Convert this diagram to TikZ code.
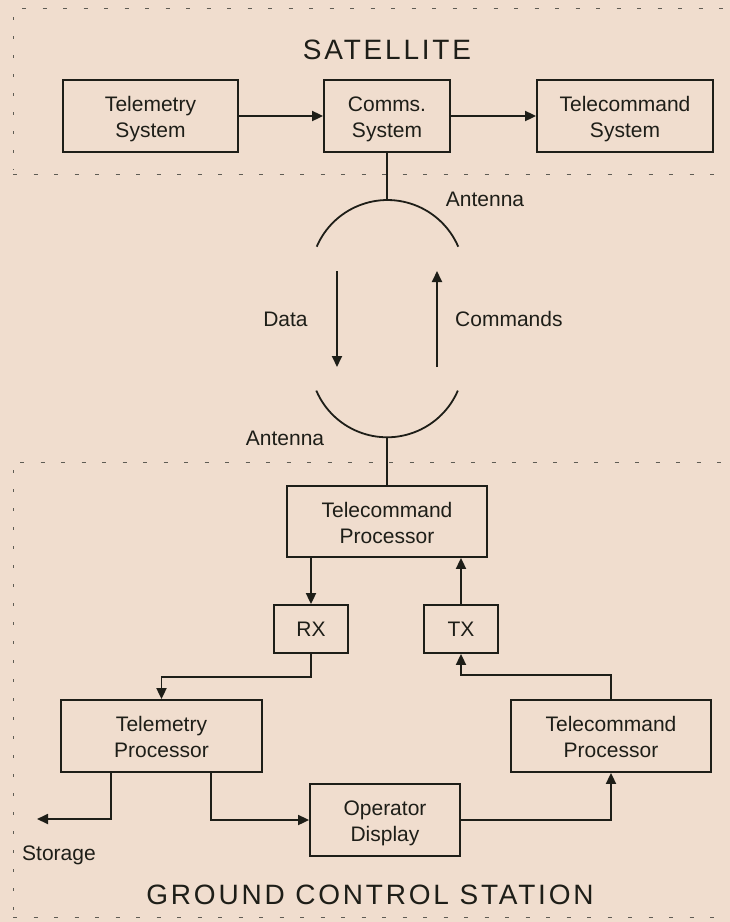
\documentclass[tikz,border=0pt]{standalone}
\usepackage{fontspec}
\setmainfont{Liberation Sans}
\newfontfamily\titlefont[LetterSpace=10]{Liberation Sans}
\usetikzlibrary{arrows.meta}
\definecolor{paper}{RGB}{240,221,206}
\definecolor{ink}{RGB}{30,30,24}
\definecolor{dashgrey}{RGB}{95,92,84}
\begin{document}
\begin{tikzpicture}[x=1pt,y=-1pt,
  box/.style={draw=ink,line width=1.8pt,inner sep=0pt,align=center,text=ink,
    font=\fontsize{21}{26}\selectfont,text height=43pt,text depth=0pt},
  smallbox/.style={box,text height=15pt},
  flow/.style={draw=ink,line width=1.8pt,-{Triangle[length=11pt,width=10pt]}},
  wire/.style={draw=ink,line width=1.8pt},
  lbl/.style={text=ink,font=\fontsize{21}{26}\selectfont,inner sep=0pt},
  title/.style={text=ink,font=\titlefont\fontsize{28}{34}\selectfont,inner sep=0pt},
  zone/.style={draw=dashgrey,line width=1pt,dash pattern=on 4pt off 16.5pt},
  zoneside/.style={draw=dashgrey,line width=1pt,dash pattern=on 3pt off 16pt}]

% page
\fill[paper] (0,0) rectangle (730,922);
\useasboundingbox (0,0) rectangle (730,922);

% zone borders
\draw[zone] (22,8) -- (730,8);
\draw[zoneside] (13,17) -- (13,170);
\draw[zone] (13,174) -- (730,174);
\draw[zone] (20,462) -- (730,462);
\draw[zoneside] (13,470) -- (13,922);
\draw[zone] (13,917) -- (730,917);

% titles
\node[title,anchor=base] (sat) at (387,59.3) {SATELLITE};
\node[title,anchor=base] (gcs) at (370,904) {GROUND CONTROL STATION};

% satellite blocks
\node[box,minimum width=175pt,minimum height=72pt] (tms) at (150.5,116) {Telemetry\\System};
\node[box,minimum width=126pt,minimum height=72pt] (comms) at (387,116) {Comms.\\System};
\node[box,minimum width=176pt,minimum height=72pt] (tcs) at (625,116) {Telecommand\\System};

% ground blocks
\node[box,minimum width=200pt,minimum height=71pt] (tcp) at (387,521.5) {Telecommand\\Processor};
\node[smallbox,minimum width=74pt,minimum height=48pt] (rx) at (311,629) {RX};
\node[smallbox,minimum width=74pt,minimum height=48pt] (tx) at (461,629) {TX};
\node[box,minimum width=201pt,minimum height=72pt] (tmp) at (161.5,736) {Telemetry\\Processor};
\node[box,minimum width=200pt,minimum height=72pt] (tcr) at (611,736) {Telecommand\\Processor};
\node[box,minimum width=150pt,minimum height=72pt] (od) at (385,820) {Operator\\Display};

% antennas
\coordinate (antup) at (387,200);
\coordinate (antdn) at (387,437.3);
\draw[wire] (316.7,246.7) arc[start angle=203.2,end angle=336.8,radius=77];
\draw[wire] (316.3,390.6) arc[start angle=156.8,end angle=23.2,radius=77];
\node[lbl,anchor=base] (antlblup) at (485,206) {Antenna};
\node[lbl,anchor=base] (antlbldn) at (285,445) {Antenna};

% space link
\coordinate (dataA) at (337,271);
\coordinate (dataB) at (337,367);
\coordinate (cmdA) at (437,367);
\coordinate (cmdB) at (437,271);
\draw[flow] (dataA) -- (dataB);
\draw[flow] (cmdA) -- (cmdB);
\node[lbl,anchor=base] (datalbl) at (285.5,326) {Data};
\node[lbl,anchor=base west] (cmdlbl) at (455,326) {Commands};

% satellite connections
\draw[flow] (tms.east) -- (comms.west);
\draw[flow] (comms.east) -- (tcs.west);
\draw[wire] (comms.south) -- (antup);
\draw[wire] (antdn) -- (tcp.north);

% ground connections
\draw[flow] (tcp.south -| rx.north) -- (rx.north);
\draw[flow] (tx.north) -- (tx.north |- tcp.south);
\draw[flow] (rx.south) -- ++(0,23) -| (tmp.north);
\draw[flow] (tcr.north) -- ++(0,-24) -| (tx.south);
\coordinate (store) at (37,819);
\draw[flow] ([xshift=-50.5pt]tmp.south) |- (store);
\draw[flow] ([xshift=49.5pt]tmp.south) |- (od.west);
\draw[flow] (od.east) -| (tcr.south);
\node[lbl,anchor=base west] (storelbl) at (22,860) {Storage};

\end{tikzpicture}
\end{document}
